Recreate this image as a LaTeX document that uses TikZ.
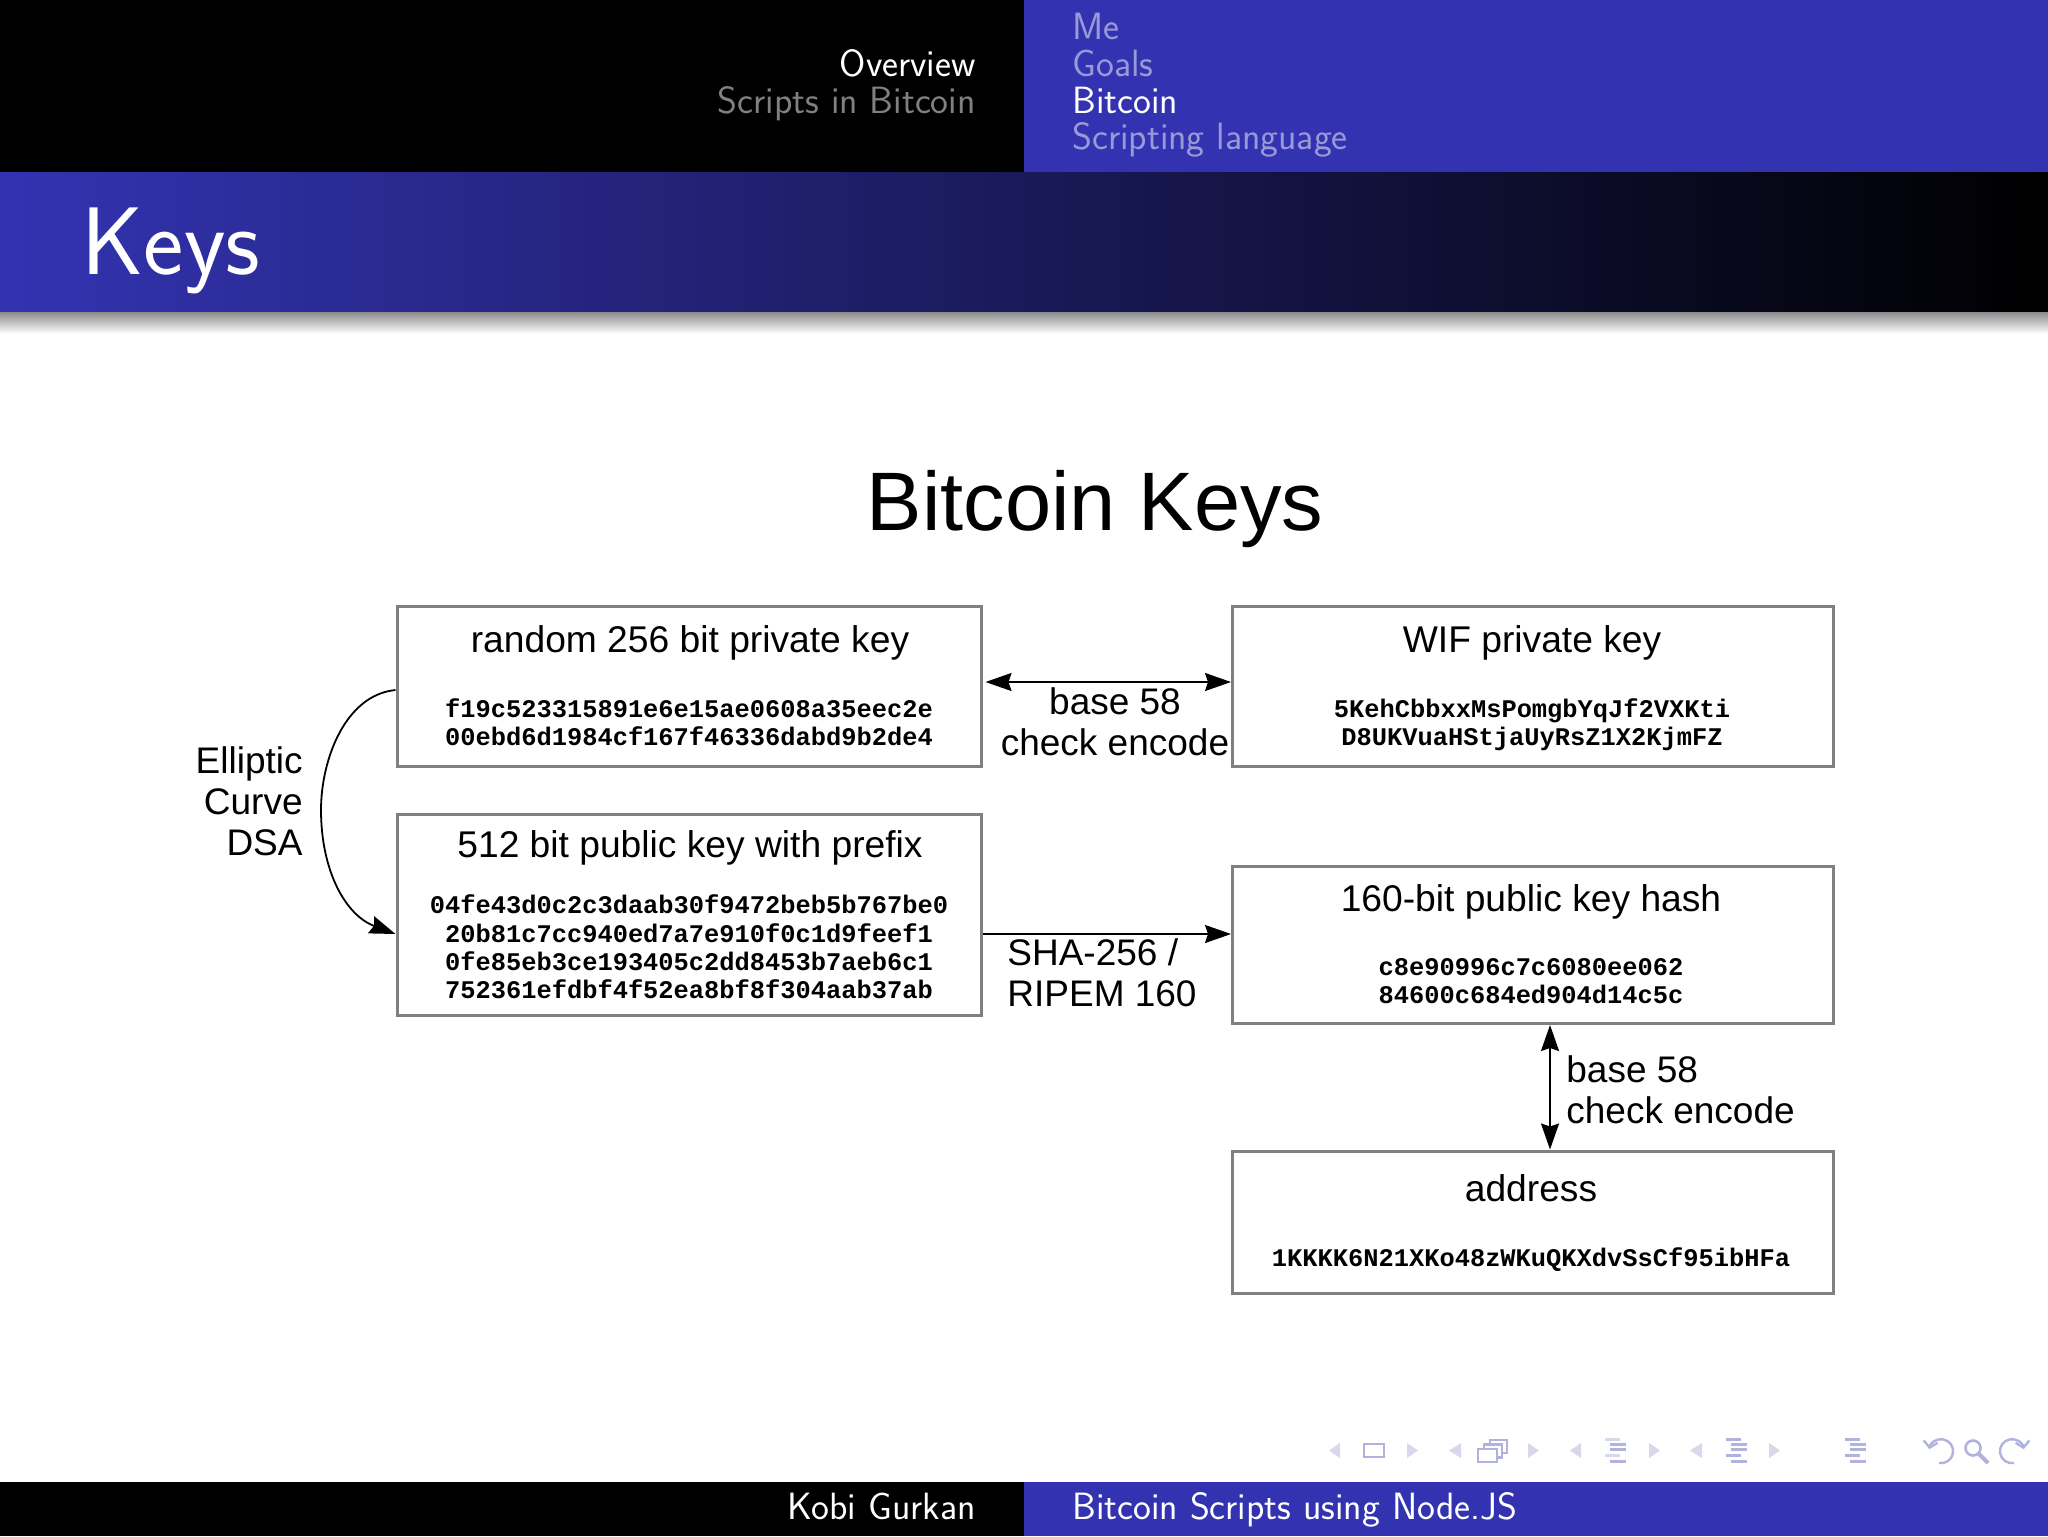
\documentclass[tikz,border=0pt]{standalone}
\usepackage{fontspec}
\setmainfont{Liberation Sans}
\newfontfamily\hexfont{Liberation Mono}
\usetikzlibrary{arrows.meta}
\definecolor{barblue}{RGB}{51,51,178}
\definecolor{navlight}{RGB}{216,216,236}
\definecolor{navdark}{RGB}{178,178,222}
\tikzset{
  keybox/.style={draw=black!50,line width=1.5pt,fill=white,inner sep=0pt},
  headtext/.style={font=\fontsize{18.6}{22}\selectfont},
  hextext/.style={font=\hexfont\bfseries\fontsize{12.7}{14.2}\selectfont,align=center,inner sep=0pt},
  edgetext/.style={font=\fontsize{18.5}{20.5}\selectfont,inner sep=0pt},
  bartext/.style={font=\sffamily\fontsize{19}{21}\selectfont,inner sep=0pt,text height=13pt,text depth=3.5pt},
  keyarrow/.style={line width=.9pt,{Stealth[length=13pt,width=9pt,inset=1.5pt]}-{Stealth[length=13pt,width=9pt,inset=1.5pt]}},
  onearrow/.style={line width=.9pt,-{Stealth[length=13pt,width=9pt,inset=1.5pt]}}
}
\newcommand{\navtri}[3]{\fill[navlight] (#1,1443) -- (#2,1450.5) -- (#1,1458) -- cycle; \fill[navlight] ({#3-11},1443) -- (#3,1450.5) -- ({#3-11},1458) -- cycle;}
\newcommand{\navlines}[2]{%
  \foreach \rowy/\rowa/\rowb/\rowc in {1438/1/16/#2,1443/6/22/navdark,1448/6/22/navdark,1454/1/16/#2,1460/6/22/navdark}
    \fill[\rowc] ({#1+\rowa},\rowy) rectangle ({#1+\rowb},{\rowy+3});}
\begin{document}
\begin{tikzpicture}[x=.5pt,y=-.5pt]
  \useasboundingbox (0,0) rectangle (2048,1536);
  \fill[white] (0,0) rectangle (2048,1536);
  \fill[black] (0,0) rectangle (1024,172);
  \fill[barblue] (1024,0) rectangle (2048,172);
  \fill[left color=barblue,right color=black] (0,172) rectangle (2048,312);
  \fill[top color=black!45,bottom color=white] (0,312) rectangle (2048,334);
  \fill[black] (0,1482) rectangle (1024,1536);
  \fill[barblue] (1024,1482) rectangle (2048,1536);

  \node[bartext,anchor=east,text=white] (overview) at (976,67) {Overview};
  \node[bartext,anchor=east,text=black!50!white] (scripts) at (976,104) {Scripts in Bitcoin};
  \node[bartext,anchor=west,text=barblue!50!white] (me) at (1072,30) {Me};
  \node[bartext,anchor=west,text=barblue!50!white] (goals) at (1072,67) {Goals};
  \node[bartext,anchor=west,text=white] (bitcoin) at (1072,104) {Bitcoin};
  \node[bartext,anchor=west,text=barblue!50!white] (scripting) at (1072,140) {Scripting language};
  \node[font=\sffamily\fontsize{48}{52}\selectfont,text=white,anchor=west,inner sep=0pt] (keys) at (81,251) {Keys};
  \node[bartext,anchor=east,text=white] (author) at (976,1510) {Kobi Gurkan};
  \node[bartext,anchor=west,text=white] (talk) at (1072,1510) {Bitcoin Scripts using Node.JS};

  \node[font=\fontsize{41.5}{46}\selectfont,inner sep=0pt] (bigtitle) at (1095,509) {Bitcoin Keys};

  \node[keybox,minimum width=292pt,minimum height=80pt] (privkey) at (689,686) {};
  \node[keybox,minimum width=292pt,minimum height=100.5pt] (pubkey) at (689,915) {};
  \node[keybox,minimum width=300.5pt,minimum height=80pt] (wif) at (1533,686) {};
  \node[keybox,minimum width=300.5pt,minimum height=78.5pt] (hash) at (1533,945) {};
  \node[keybox,minimum width=300.5pt,minimum height=71pt] (address) at (1533,1222) {};

  \node[headtext] (privhead) at (690,643) {random 256 bit private key};
  \node[headtext] (pubhead) at (690,848) {512 bit public key with prefix};
  \node[headtext] (wifhead) at (1532,643) {WIF private key};
  \node[headtext] (hashhead) at (1531,902) {160-bit public key hash};
  \node[headtext] (addrhead) at (1531,1188) {address};

  \node[hextext] (privhex) at (689,722) {f19c523315891e6e15ae0608a35eec2e\\00ebd6d1984cf167f46336dabd9b2de4};
  \node[hextext] (pubhex) at (689,947) {04fe43d0c2c3daab30f9472beb5b767be0\\20b81c7cc940ed7a7e910f0c1d9feef1\\0fe85eb3ce193405c2dd8453b7aeb6c1\\752361efdbf4f52ea8bf8f304aab37ab};
  \node[hextext] (wifhex) at (1532,725) {5KehCbbxxMsPomgbYqJf2VXKti\\D8UKVuaHStjaUyRsZ1X2KjmFZ};
  \node[hextext] (hashhex) at (1531,981) {c8e90996c7c6080ee062\\84600c684ed904d14c5c};
  \node[hextext] (addrhex) at (1531,1260) {1KKKK6N21XKo48zWKuQKXdvSsCf95ibHFa};

  \node[edgetext,align=right,anchor=east] (ecdsa) at (303,801) {Elliptic\\Curve\\DSA};
  \node[edgetext,align=center] (wiflabel) at (1115,722) {base 58\\check encode};
  \node[edgetext,align=left,anchor=west] (hashlabel) at (1007,973) {SHA-256 /\\RIPEM 160};
  \node[edgetext,align=left,anchor=west] (addrlabel) at (1566,1090) {base 58\\check encode};

  \draw[keyarrow] ([yshift=2pt,xshift=1.5pt]privkey.east) -- ([yshift=2pt]wif.west);
  \draw[onearrow] ([yshift=-9.5pt]pubkey.east) -- ([yshift=5.5pt]hash.west);
  \draw[keyarrow] ([xshift=8.5pt]hash.south) -- ([xshift=8.5pt]address.north);
  \draw[onearrow] ([yshift=-2pt]privkey.west) .. controls (345,695) and (321,760) .. (321,810) .. controls (321,870) and (345,915) .. ([yshift=-9.5pt]pubkey.west);

  \navtri{1340}{1329}{1418}
  \draw[navdark,line width=1.3pt] (1364,1444) rectangle (1384,1457);
  \navtri{1461}{1449}{1539}
  \foreach \stacki in {2,1,0}
    \draw[navdark,line width=1.1pt,fill=white] ({1478+\stacki*6},{1449-\stacki*4.5}) rectangle ({1497+\stacki*5},{1462-\stacki*4.5});
  \navtri{1581}{1570}{1660}
  \navlines{1604}{navlight}
  \navtri{1702}{1690}{1780}
  \navlines{1725}{navdark}
  \navlines{1844}{navdark}
  \draw[navdark,line width=1.2pt,-{Straight Barb[length=3pt,width=7pt]}] (1939,1463) arc (100:-170:12);
  \draw[navdark,line width=1.3pt] (1973,1448) circle (7.5);
  \draw[navdark,line width=2pt] (1979,1454) -- (1988,1463);
  \draw[navdark,line width=1.2pt,-{Straight Barb[length=3pt,width=7pt]}] (2014,1463) arc (80:350:12);
\end{tikzpicture}
\end{document}
